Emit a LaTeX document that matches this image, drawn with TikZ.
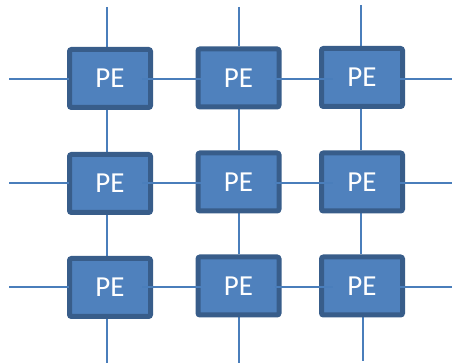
\documentclass[tikz,border=0pt]{standalone}
\usepackage{fontspec}
\setmainfont{Carlito}
\usetikzlibrary{backgrounds}
\definecolor{pefill}{HTML}{4F81BD}
\definecolor{peedge}{HTML}{385D8A}
\definecolor{wire}{HTML}{4A7EBB}
\begin{document}
\begin{tikzpicture}[x=1pt,y=-1pt,
  pebox/.style={draw=peedge, line width=5pt, fill=pefill, rounded corners=2pt,
    minimum width=81pt, minimum height=58pt, inner sep=0pt, text=white,
    font=\fontsize{29}{34}\selectfont},
  wireline/.style={draw=wire, line width=1.8pt}]
\useasboundingbox (0,0) rectangle (453,363);

% processing elements
\node[pebox] (a11) at (110,78.5) {PE};
\node[pebox] (a12) at (238.5,78) {PE};
\node[pebox] (a13) at (362,77.5) {PE};
\node[pebox] (a21) at (110,183.5) {PE};
\node[pebox] (a22) at (238.5,182) {PE};
\node[pebox] (a23) at (362,182) {PE};
\node[pebox] (a31) at (110,287.5) {PE};
\node[pebox] (a32) at (238.5,286) {PE};
\node[pebox] (a33) at (362,286) {PE};

% free ends of the links
\coordinate (t1) at (107,7);
\coordinate (t2) at (239,7);
\coordinate (t3) at (361,5);
\coordinate (b1) at (107,363);
\coordinate (b2) at (239,363);
\coordinate (b3) at (363,361);
\coordinate (l1) at (9,79);
\coordinate (l2) at (9,183);
\coordinate (l3) at (9,287);
\coordinate (r1) at (452,79);
\coordinate (r2) at (452,183);
\coordinate (r3) at (452,287);

% vertical links, behind the boxes
\begin{pgfonlayer}{background}
  \draw[wireline] (t1) -- (t1 |- a11.north);
  \draw[wireline] (t1 |- a11.south) -- (t1 |- a21.north);
  \draw[wireline] (t1 |- a21.south) -- (t1 |- a31.north);
  \draw[wireline] (t1 |- a31.south) -- (b1);
  \draw[wireline] (t2) -- (t2 |- a12.north);
  \draw[wireline] (t2 |- a12.south) -- (t2 |- a22.north);
  \draw[wireline] (t2 |- a22.south) -- (t2 |- a32.north);
  \draw[wireline] (t2 |- a32.center) -- (b2);
  \draw[wireline] (t3) -- (t3 |- a13.north);
  \draw[wireline] (t3 |- a13.south) -- (t3 |- a23.north);
  \draw[wireline] (t3 |- a23.south) -- (t3 |- a33.north);
  \draw[wireline] (b3 |- a33.south) -- (b3);
\end{pgfonlayer}

% horizontal links
\foreach \r in {1,2,3}{
  \draw[wireline] (l\r) -- ([xshift=2pt]l\r -| a\r1.west);
  \draw[wireline] ([xshift=-11pt]l\r -| a\r1.east) -- ([xshift=5pt]l\r -| a\r2.west);
  \draw[wireline] ([xshift=-7pt]l\r -| a\r2.east) -- ([xshift=14pt]l\r -| a\r3.west);
  \draw[wireline] ([xshift=-5pt]l\r -| a\r3.east) -- (r\r);
}
\end{tikzpicture}
\end{document}
